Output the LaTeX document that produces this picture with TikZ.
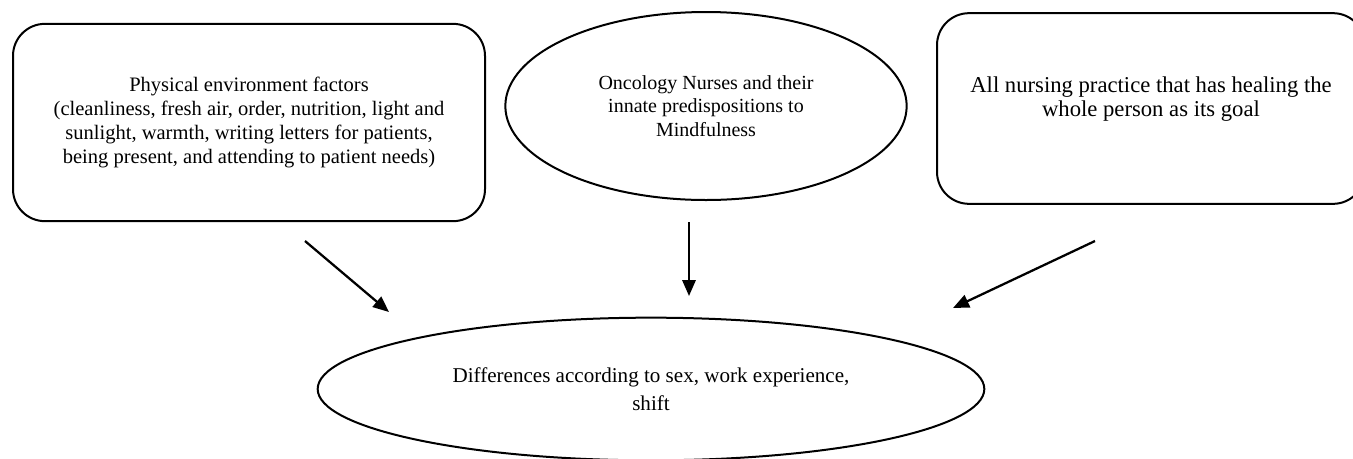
\documentclass[tikz,border=0pt]{standalone}
\usepackage{fontspec}
\setmainfont{Liberation Serif}
\usetikzlibrary{arrows.meta,shapes.geometric}
\begin{document}
\begin{tikzpicture}[x=0.75pt, y=-0.75pt, line width=1.5pt,
  factor box/.style={rectangle, rounded corners=24pt, draw, align=center, inner sep=0pt},
  factor oval/.style={ellipse, draw, align=center, inner sep=0pt},
  flow/.style={-{Triangle[length=12pt,width=10pt]}, line width=1.7pt}]
\useasboundingbox (0,0) rectangle (1353,458);
% the three influences
\node [factor box, minimum width=354pt, minimum height=148pt,
  font=\fontsize{15.4}{18}\selectfont] (env) at (249,122.5)
  {Physical environment factors\\(cleanliness, fresh air, order, nutrition, light and\\sunlight, warmth, writing letters for patients,\\being present, and attending to patient needs)};
\node [factor oval, minimum width=301pt, minimum height=141pt,
  font=\fontsize{15}{17.5}\selectfont] (nurses) at (706,106)
  {Oncology Nurses and their\\innate predispositions to\\Mindfulness};
\node [factor box, minimum width=321pt, minimum height=143pt,
  font=\fontsize{17}{18}\selectfont] (holistic) at (1151,108.5)
  {All nursing practice that has healing the\\whole person as its goal\\\mbox{}};
% outcome
\node [factor oval, minimum width=500pt, minimum height=107pt,
  font=\fontsize{15.8}{21}\selectfont] (diff) at (651,389)
  {Differences according to sex, work experience,\\shift};
% arrow ends
\coordinate (e1) at (305,241);
\coordinate (e2) at (389,312);
\coordinate (n1) at (689,222);
\coordinate (n2) at (689,296);
\coordinate (h1) at (1095,241);
\coordinate (h2) at (953,308);
\path
  (e1) edge [flow] (e2)
  (n1) edge [flow] (n2)
  (h1) edge [flow] (h2)
  ;
\end{tikzpicture}
\end{document}
